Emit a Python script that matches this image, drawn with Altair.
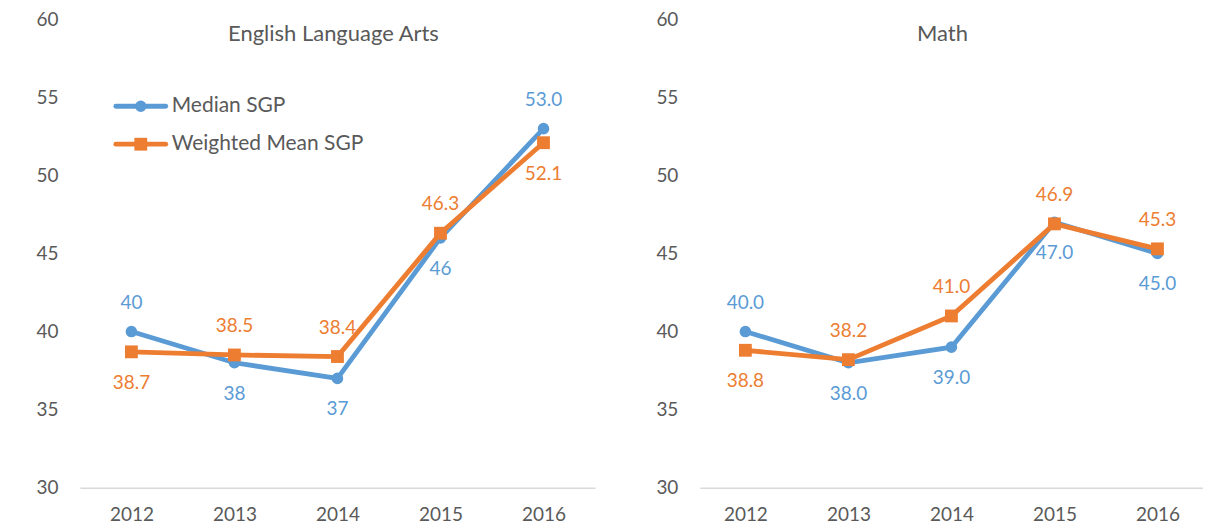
import altair as alt
import pandas as pd

years = ["2012", "2013", "2014", "2015", "2016"]
series = ["Median SGP", "Weighted Mean SGP"]
colors = ["#5B9BD5", "#ED7D31"]

ela_median = [40, 38, 37, 46, 53.0]
ela_weighted = [38.7, 38.5, 38.4, 46.3, 52.1]
ela_median_labels = ["40", "38", "37", "46", "53.0"]
ela_weighted_labels = ["38.7", "38.5", "38.4", "46.3", "52.1"]
ela_median_pos = ["above", "below", "below", "below", "above"]
ela_weighted_pos = ["below", "above", "above", "above", "below"]

math_median = [40.0, 38.0, 39.0, 47.0, 45.0]
math_weighted = [38.8, 38.2, 41.0, 46.9, 45.3]
math_median_labels = ["40.0", "38.0", "39.0", "47.0", "45.0"]
math_weighted_labels = ["38.8", "38.2", "41.0", "46.9", "45.3"]
math_median_pos = ["above", "below", "below", "below", "below"]
math_weighted_pos = ["below", "above", "above", "above", "above"]

y_ticks = [30, 35, 40, 45, 50, 55, 60]

H = 469
FONT = "Lato"
GREY = "#595959"


def panel(title, med, wtd, medl, wtdl, medp, wtdp, show_legend, width, pad, title_x):
    rows = []
    for s, vals, labs, poss in [(series[0], med, medl, medp), (series[1], wtd, wtdl, wtdp)]:
        for y, v, l, p in zip(years, vals, labs, poss):
            rows.append({"year": y, "value": v, "series": s, "label": l, "pos": p})
    df = pd.DataFrame(rows)

    x = alt.X("year:O", scale=alt.Scale(type="point", domain=years, padding=pad),
              axis=alt.Axis(title=None, labelAngle=0, ticks=False, grid=False,
                            domainColor="#D9D9D9", domainWidth=1.5, labelPadding=18,
                            labelFont=FONT, labelFontSize=19, labelColor=GREY))
    y = alt.Y("value:Q", scale=alt.Scale(domain=[30, 60], nice=False, zero=False),
              axis=alt.Axis(title=None, values=y_ticks, ticks=False, grid=False,
                            domain=False, labelPadding=22,
                            labelFont=FONT, labelFontSize=19, labelColor=GREY))
    color = alt.Color("series:N", scale=alt.Scale(domain=series, range=colors), legend=None)

    base = alt.Chart(df).encode(x=x, y=y, color=color)
    layers = []
    shapes = ["circle", "square"]
    sizes = [135, 165]
    for i, s in enumerate(series):
        sub = base.transform_filter(alt.datum.series == s)
        layers.append(sub.mark_line(strokeWidth=4.8))
        layers.append(sub.mark_point(shape=shapes[i], filled=True, size=sizes[i], opacity=1))
    for pos, dy in [("above", -29), ("below", 31)]:
        layers.append(
            base.transform_filter(alt.datum.pos == pos)
            .mark_text(fontSize=19, font=FONT, dy=dy)
            .encode(text="label:N")
        )
    layers.append(
        alt.Chart(pd.DataFrame({"t": [title]}))
        .mark_text(fontSize=22, font=FONT, color=GREY)
        .encode(x=alt.value(title_x), y=alt.value(15), text="t:N")
    )
    if show_legend:
        for i, s in enumerate(series):
            ld = alt.Chart(pd.DataFrame({"s": [s]}))
            yy = 87 + i * 38
            layers.append(ld.mark_rule(strokeWidth=4.8, color=colors[i], strokeCap="round")
                          .encode(x=alt.value(36), x2=alt.value(86), y=alt.value(yy)))
            layers.append(ld.mark_point(shape=shapes[i], filled=True, size=sizes[i],
                                        opacity=1, color=colors[i])
                          .encode(x=alt.value(61), y=alt.value(yy)))
            layers.append(ld.mark_text(align="left", fontSize=21, font=FONT, color=GREY)
                          .encode(x=alt.value(92), y=alt.value(yy), text="s:N"))
    return alt.layer(*layers).properties(width=width, height=H)


left = panel("English Language Arts", ela_median, ela_weighted, ela_median_labels,
             ela_weighted_labels, ela_median_pos, ela_weighted_pos, True, 516, 0.5, 254)
right = panel("Math", math_median, math_weighted, math_median_labels,
              math_weighted_labels, math_median_pos, math_weighted_pos, False, 504, 0.442, 243)

chart = (
    alt.hconcat(left, right, spacing=60)
    .properties(padding={"left": 27, "top": 2, "right": 0, "bottom": 0},
                background="white")
    .configure_view(stroke=None)
    .configure_axis(labelFont=FONT, labelFontSize=19, labelColor=GREY)
)

chart.save("out.html", embed_options={"renderer": "svg", "actions": False})
